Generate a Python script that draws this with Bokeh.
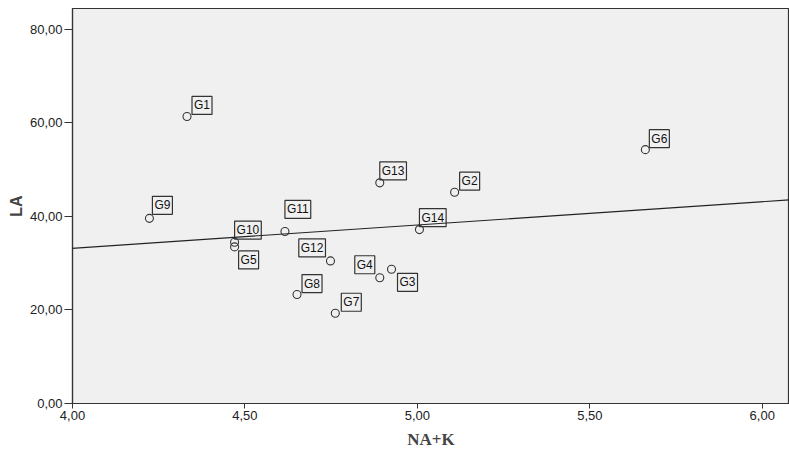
import numpy as np
from bokeh.plotting import figure
from bokeh.models import (Label, Slope, FixedTicker, CustomJSTickFormatter, Range1d,
                          ColumnDataSource)
from bokeh.embed import file_html
from bokeh.resources import INLINE

# ---- data ----
names = ["G1", "G2", "G3", "G4", "G5", "G6", "G7", "G8", "G9", "G10", "G11", "G12", "G13", "G14"]
na_k = [4.332, 5.108, 4.925, 4.891, 4.470, 5.661, 4.762, 4.651, 4.223, 4.470, 4.616, 4.748, 4.891, 5.006]
la = [61.4, 45.2, 28.7, 26.9, 33.5, 54.3, 19.3, 23.3, 39.6, 34.5, 36.8, 30.5, 47.2, 37.2]
x_ticks = [4.0, 4.5, 5.0, 5.5, 6.0]
y_ticks = [0, 20, 40, 60, 80]

# label placement (screen px): anchor, x offset, y offset
label_pos = {
    "G1": ("bottom_left", 5, 2), "G2": ("bottom_left", 5, 2), "G3": ("top_left", 6, -4),
    "G4": ("bottom_right", -5, 4), "G5": ("top_left", 4, -4), "G6": ("bottom_left", 4, 2),
    "G7": ("bottom_left", 6, 2), "G8": ("bottom_left", 5, 2), "G9": ("bottom_left", 3, 4),
    "G10": ("bottom_left", 0, 3), "G11": ("bottom_left", 0, 13), "G12": ("bottom_right", -5, 4),
    "G13": ("bottom_left", 0, 3), "G14": ("bottom_left", 0, 3),
}

FG = "#333333"

p = figure(frame_width=717, frame_height=395, output_backend="svg", toolbar_location=None,
           x_range=Range1d(4.0, 6.079), y_range=Range1d(0, 84.49),
           min_border_left=72, min_border_right=0, min_border_top=8, min_border_bottom=45,
           background_fill_color="#f0f0f0", border_fill_color="white",
           outline_line_color=FG, outline_line_width=1.2)
p.grid.visible = False

fmt = CustomJSTickFormatter(code="return tick.toFixed(2).replace('.', ',');")
for ax, ticks in ((p.xaxis[0], x_ticks), (p.yaxis[0], y_ticks)):
    ax.ticker = FixedTicker(ticks=ticks)
    ax.formatter = fmt
    ax.axis_line_color = FG
    ax.axis_line_width = 1.2
    ax.major_tick_line_color = FG
    ax.major_tick_in = 0
    ax.minor_tick_line_color = None
    ax.major_label_text_font = "Liberation Sans"
    ax.major_label_text_font_size = "13px"
    ax.major_label_text_color = "#222222"
    ax.major_label_standoff = 2

p.xaxis[0].major_tick_out = 5
p.yaxis[0].major_tick_out = 8
p.xaxis[0].axis_label = "NA+K"
p.xaxis[0].axis_label_text_font = "Liberation Serif"
p.xaxis[0].axis_label_text_font_size = "17px"
p.xaxis[0].axis_label_text_font_style = "bold"
p.xaxis[0].axis_label_standoff = 7
p.yaxis[0].axis_label = "LA"
p.yaxis[0].axis_label_text_font = "Liberation Sans"
p.yaxis[0].axis_label_text_font_size = "16px"
p.yaxis[0].axis_label_text_font_style = "bold"
p.yaxis[0].axis_label_standoff = 2

src = ColumnDataSource(dict(x=na_k, y=la, name=names))
p.scatter("x", "y", source=src, size=8, fill_color=None, line_color=FG, line_width=1.1)

for n, xv, yv in zip(names, na_k, la):
    anc, dx, dy = label_pos[n]
    p.add_layout(Label(x=xv, y=yv, text=n, anchor=anc, x_offset=dx, y_offset=dy,
                       text_font="Liberation Sans", text_font_size="12px", text_color="#111111",
                       padding=2, border_line_color=FG, border_line_width=1.2,
                       background_fill_color=None))

slope, intercept = np.polyfit(na_k, la, 1)
p.add_layout(Slope(gradient=float(slope), y_intercept=float(intercept),
                   line_color="#222222", line_width=1.2))

open("out.html", "w").write(file_html(p, INLINE))
